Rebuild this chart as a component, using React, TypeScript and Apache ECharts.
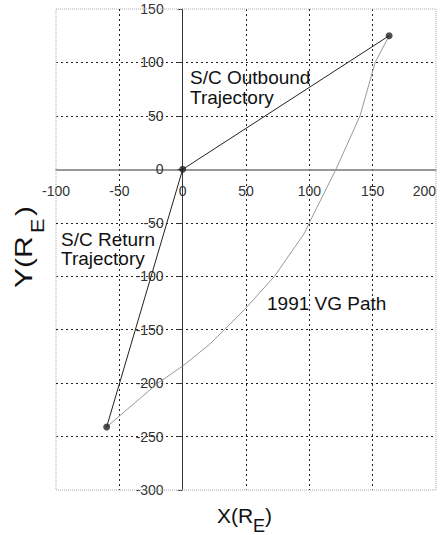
import React, { useEffect, useRef } from "react";
import * as echarts from "echarts";

// Axis ticks (R_E)
const xTicks = [-100, -50, 0, 50, 100, 150, 200];
const yTicks = [-300, -250, -200, -150, -100, -50, 0, 50, 100, 150];

// Spacecraft trajectory legs, Earth at the origin
const outboundX = [0, 163];
const outboundY = [0, 125];
const returnX = [0, -60];
const returnY = [0, -241];

// 1991 VG path
const vgPathX = [163, 152, 140, 121, 100, 96, 72.5, 49, 33, 21, 0, -19.5, -60];
const vgPathY = [125, 100, 50, 0, -50, -60, -100, -131, -150, -164, -184, -200, -241];

// Turning points of the trajectory
const markerX = [0, 163, -60];
const markerY = [0, 125, -241];

const FONT = "'Liberation Sans', Arial, Helvetica, sans-serif";

const pairs = (xs: number[], ys: number[]) => xs.map((x, i) => [x, ys[i]]);

// Plot area in pixels
const GRID = { left: 56, top: 9, width: 380, height: 481 };

// Dotted grid everywhere except on the frame and on the axes through the origin
const gridColors = (ticks: number[]) =>
  ticks.map((t, i) => (t === 0 || i === 0 || i === ticks.length - 1 ? "rgba(0,0,0,0)" : "#222"));

export default function App() {
  const ref = useRef<HTMLDivElement>(null);

  useEffect(() => {
    document.body.style.margin = "0";
    if (!ref.current) return;
    const chart = echarts.init(ref.current, null, { renderer: "svg" });

    const xMin = xTicks[0];
    const xMax = xTicks[xTicks.length - 1];
    const yMin = yTicks[0];
    const yMax = yTicks[yTicks.length - 1];
    // Shift both axes (line, ticks and labels) so they cross at the origin
    const yAxisShift = -GRID.width * (0 - xMin) / (xMax - xMin);
    const xAxisShift = -GRID.height * (0 - yMin) / (yMax - yMin);

    const txt = (x: number, y: number, text: string, size: number, extra: any = {}) => ({
      type: "text",
      x,
      y,
      silent: true,
      ...extra,
      style: { text, font: `${size}px ${FONT}`, fill: "#111", align: "left", verticalAlign: "middle" },
    });

    chart.setOption({
      animation: false,
      backgroundColor: "#ffffff",
      grid: {
        left: GRID.left,
        top: GRID.top,
        width: GRID.width,
        height: GRID.height,
        containLabel: false,
        outerBoundsMode: "none",
      },
      xAxis: {
        type: "value",
        position: "bottom",
        offset: xAxisShift,
        min: xMin,
        max: xMax,
        interval: xTicks[1] - xTicks[0],
        axisLine: { onZero: false, lineStyle: { color: "#777", width: 1.5 } },
        axisTick: { show: false },
        axisLabel: { color: "#333", fontSize: 14, fontFamily: FONT, margin: 15, alignMaxLabel: "right" },
        splitLine: { show: true, lineStyle: { color: gridColors(xTicks), width: 1, type: [2, 3] } },
      },
      yAxis: {
        type: "value",
        position: "left",
        offset: yAxisShift,
        min: yMin,
        max: yMax,
        interval: yTicks[1] - yTicks[0],
        axisLine: { onZero: false, lineStyle: { color: "#333", width: 1 } },
        axisTick: { show: true, length: 5, lineStyle: { color: "#333" } },
        axisLabel: { color: "#333", fontSize: 14, fontFamily: FONT, margin: 19 },
        splitLine: { show: true, lineStyle: { color: gridColors(yTicks), width: 1, type: [2, 3] } },
      },
      series: [
        { type: "line", data: pairs(vgPathX, vgPathY), showSymbol: false, lineStyle: { color: "#999", width: 1 }, z: 2 },
        { type: "line", data: pairs(outboundX, outboundY), showSymbol: false, lineStyle: { color: "#222", width: 1 }, z: 3 },
        { type: "line", data: pairs(returnX, returnY), showSymbol: false, lineStyle: { color: "#222", width: 1 }, z: 3 },
        { type: "scatter", data: pairs(markerX, markerY), symbol: "circle", symbolSize: 7, itemStyle: { color: "#222" }, z: 4 },
      ],
      graphic: [
        {
          type: "rect",
          silent: true,
          z: 1,
          shape: { x: GRID.left, y: GRID.top, width: GRID.width, height: GRID.height },
          style: { fill: "none", stroke: "#aaa", lineWidth: 1, lineDash: [1, 1] },
        },
        txt(190, 77, "S/C Outbound", 19),
        txt(190, 97, "Trajectory", 19),
        txt(61, 239, "S/C Return", 19),
        txt(61, 258.5, "Trajectory", 19),
        txt(267, 303.5, "1991 VG Path", 19),
        // X(R_E)
        txt(217, 515.5, "X(R", 21),
        txt(253, 526, "E", 18),
        txt(265, 515.5, ")", 21),
        // Y(R_E), reading upwards
        txt(24, 288, "Y(R", 24, { rotation: Math.PI / 2, scaleX: 1.25 }),
        txt(38, 233, "E", 18, { rotation: Math.PI / 2, scaleX: 1.2 }),
        txt(24, 216, ")", 24, { rotation: Math.PI / 2, scaleX: 1.25 }),
      ],
    });

    return () => chart.dispose();
  }, []);

  return <div ref={ref} style={{ width: 443, height: 535 }} />;
}
